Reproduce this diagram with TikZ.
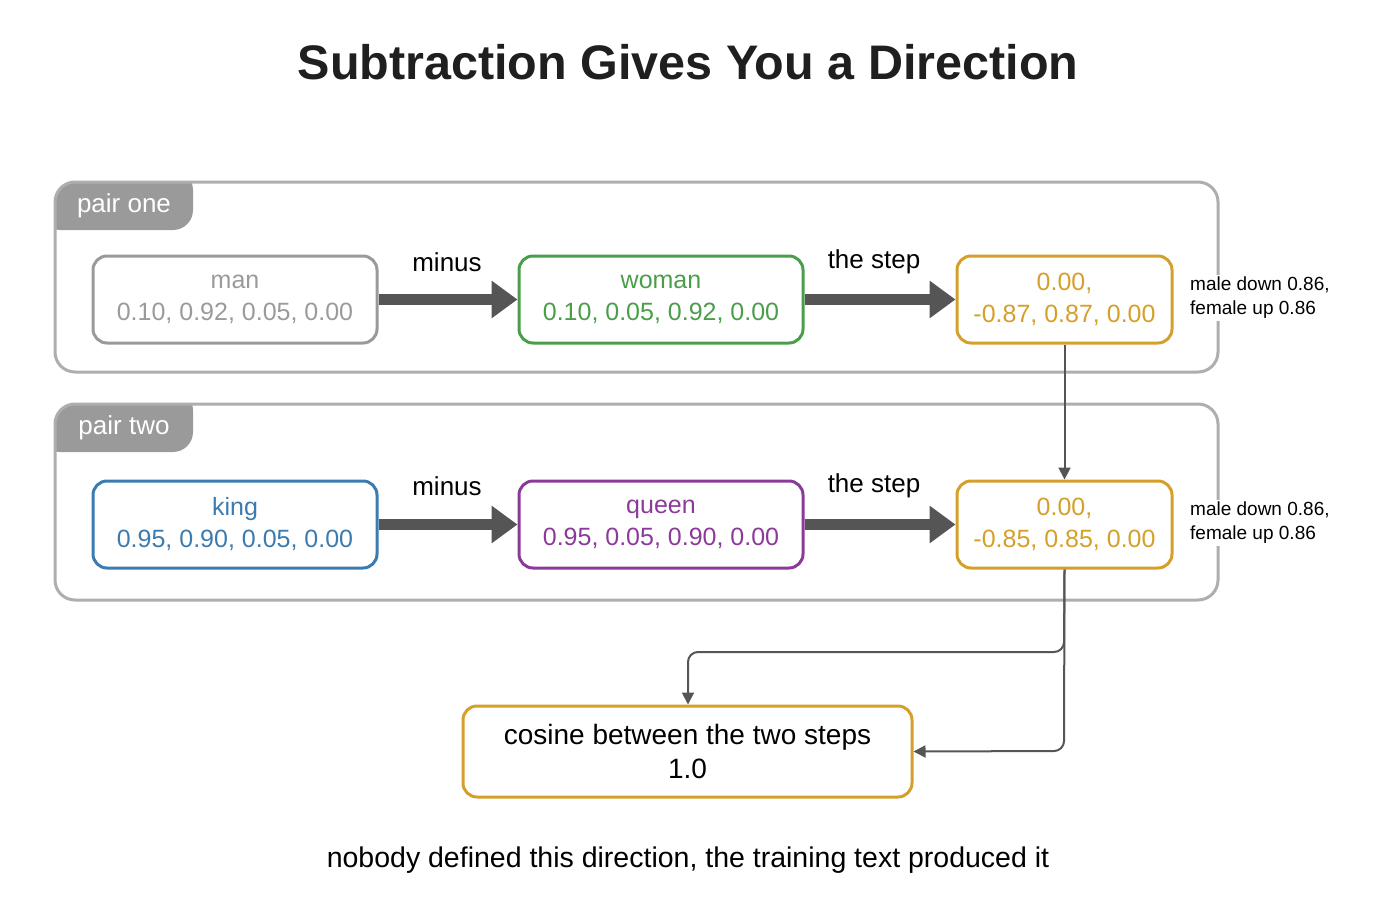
\documentclass[tikz,border=0pt]{standalone}
\usepackage{fontspec}
\setmainfont{Liberation Sans}
\usetikzlibrary{arrows.meta}
\definecolor{cgray}{HTML}{9A9A9A}
\definecolor{cgreen}{HTML}{4A9E4A}
\definecolor{cgold}{HTML}{D4A02A}
\definecolor{cblue}{HTML}{3B7BB0}
\definecolor{cpurple}{HTML}{8B3A9A}
\definecolor{cdark}{HTML}{555555}
\begin{document}
\begin{tikzpicture}[x=1pt,y=-1pt,
  grp/.style={draw=cgray!80,line width=3pt,rounded corners=20pt},
  box/.style={draw=#1,text=#1,line width=3pt,rounded corners=14pt,minimum height=87pt,align=center,font=\fontsize{25}{32}\selectfont,inner sep=0pt},
  big/.style={draw=cdark,line width=11pt,-{Triangle[length=26pt,width=36pt]}},
  thin/.style={draw=cdark,line width=2pt,-{Triangle[length=12pt,width=12pt]},rounded corners=10pt},
  lab/.style={font=\fontsize{26}{30}\selectfont},
  side/.style={font=\fontsize{19}{24}\selectfont,align=left,anchor=west,fill=white,inner sep=2pt}]
\useasboundingbox (0,0) rectangle (1376,899);
\node[text=black!88,font=\bfseries\fontsize{48.5}{54}\selectfont] (title) at (688,62) {Subtraction Gives You a Direction};
% groups
\begin{scope}
\clip[rounded corners=20pt] (55,182) rectangle (1218,372);
\fill[cgray,rounded corners=20pt] (40,170) -- (193,170) -- (193,230) -- (40,230) -- cycle;
\end{scope}
\draw[grp] (55,182) rectangle (1218,372);
\node[text=white,font=\fontsize{26}{30}\selectfont] (t1) at (124,206) {pair one};
\begin{scope}
\clip[rounded corners=20pt] (55,404) rectangle (1218,600);
\fill[cgray,rounded corners=20pt] (40,390) -- (193,390) -- (193,452) -- (40,452) -- cycle;
\end{scope}
\draw[grp] (55,404) rectangle (1218,600);
\node[text=white,font=\fontsize{26}{30}\selectfont] (t2) at (124,428) {pair two};
% nodes
\node[box=cgray,minimum width=284pt] (man) at (235,299.5) {man\\0.10, 0.92, 0.05, 0.00};
\node[box=cgreen,minimum width=284pt] (woman) at (661,299.5) {woman\\0.10, 0.05, 0.92, 0.00};
\node[box=cgold,minimum width=215pt] (s1) at (1064.5,299.5) {0.00,\\-0.87, 0.87, 0.00};
\node[box=cblue,minimum width=284pt] (king) at (235,524.5) {king\\0.95, 0.90, 0.05, 0.00};
\node[box=cpurple,minimum width=284pt] (queen) at (661,524.5) {queen\\0.95, 0.05, 0.90, 0.00};
\node[box=cgold,minimum width=215pt] (s2) at (1064.5,524.5) {0.00,\\-0.85, 0.85, 0.00};
\node[box=cgold,minimum width=449pt,minimum height=91pt,text=black,font=\fontsize{28}{34}\selectfont] (cos) at (687.5,751.5) {cosine between the two steps\\1.0};
% arrows
\draw[big] (man.east) -- (woman.west);
\draw[big] (woman.east) -- (s1.west);
\draw[big] (king.east) -- (queen.west);
\draw[big] (queen.east) -- (s2.west);
\node[lab] (m1) at (447,262) {minus};
\node[lab] (st1) at (874,262) {the step};
\node[lab] (m2) at (447,486) {minus};
\node[lab] (st2) at (874,486) {the step};
\node[side] (sd1) at (1188,298) {male down 0.86,\\female up 0.86};
\node[side] (sd2) at (1188,523) {male down 0.86,\\female up 0.86};
\draw[thin] (s1.south) -- (s2.north);
\draw[thin] (s2.south) -- (1064,652) -- (688,652) -- (cos.north -| 688,0);
\draw[thin] (s2.south) -- (1064,751) -- (cos.east);
\node[font=\fontsize{28.5}{34}\selectfont] (foot) at (688,860) {nobody defined this direction, the training text produced it};
\end{tikzpicture}
\end{document}
